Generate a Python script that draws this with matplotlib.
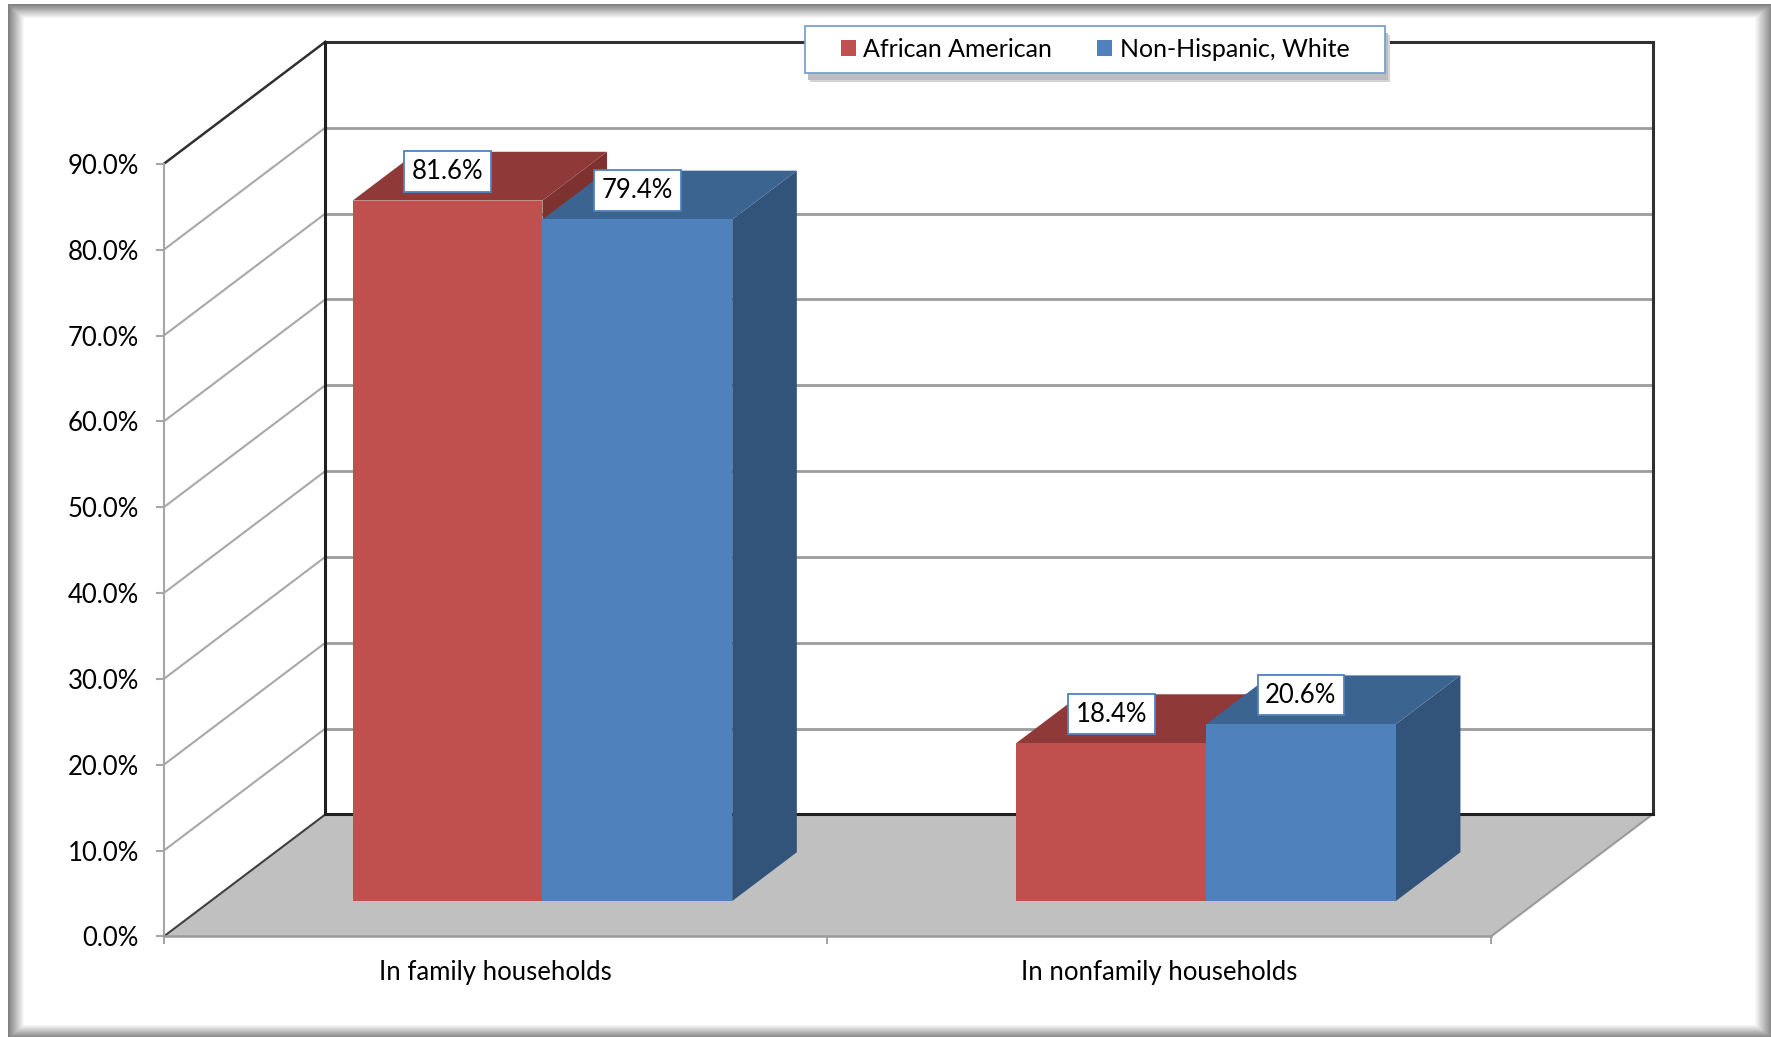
import numpy as np
import matplotlib
matplotlib.use('Agg')
import matplotlib.pyplot as plt
from matplotlib.patches import Polygon, Rectangle
from matplotlib.lines import Line2D
from matplotlib.transforms import IdentityTransform

# data
categories = ['In family households', 'In nonfamily households']
series = ['African American', 'Non-Hispanic, White']
african_american = [81.6, 18.4]
non_hispanic_white = [79.4, 20.6]
y_ticks = [0, 10, 20, 30, 40, 50, 60, 70, 80, 90]

front_colors = ['#c0504d', '#4f81bd']
top_colors = ['#8f3a38', '#3c6491']
side_colors = ['#7e3230', '#32537a']

plt.rcParams['font.family'] = ['Lato', 'DejaVu Sans']
FS = 18.5

W, H = 1771, 1037
fig = plt.figure(figsize=(W / 100, H / 100), dpi=100)

# white frame with a soft inner shadow
yy, xx = np.mgrid[0:H, 0:W].astype(float)
shade = np.zeros((H, W))
shade = np.maximum(shade, np.clip(1 - (xx - 8) / 16, 0, 1) * 0.5)
shade = np.maximum(shade, np.clip(1 - (yy - 4) / 14, 0, 1) * 0.5)
shade = np.maximum(shade, np.clip(1 - (W - 1 - xx) / 16, 0, 1) * 0.45)
shade = np.maximum(shade, np.clip(1 - (H - 1 - yy) / 12, 0, 1) * 0.45)
img = 1 - shade
img[(xx < 8) | (yy < 4)] = 1.0
bg = fig.add_axes([0, 0, 1, 1], zorder=-5)
bg.imshow(img, cmap='gray', vmin=0, vmax=1, aspect='auto', interpolation='nearest')
bg.axis('off')

# front plane axes (depth 0)
ax = fig.add_axes([0.0925, 0.0970, 0.7494, 0.7450])
ax.set_facecolor('none')
ax.set_xlim(0, 2)
ax.set_ylim(0, 90)

DX, DY = 161.5, 122.0      # pixel shift for full depth
D0, DEPTH = 0.29, 0.40     # bar front depth, bar thickness
BW = 0.286                 # bar width in category units
ID = IdentityTransform()


def proj(x, y, d):
    px, py = ax.transData.transform((x, y))
    return px + d * DX, py + d * DY


def line(p, q, color, lw, z=1):
    ax.add_line(Line2D([p[0], q[0]], [p[1], q[1]], color=color, lw=lw,
                       transform=ID, clip_on=False, zorder=z))


# floor
floor = [proj(0, 0, 0), proj(2, 0, 0), proj(2, 0, 1), proj(0, 0, 1)]
ax.add_patch(Polygon(floor, closed=True, facecolor='#c0c0c0', edgecolor='none',
                     transform=ID, clip_on=False, zorder=0.5))
line(proj(2, 0, 0), proj(2, 0, 1), '#9a9a9a', 1.5)
line(proj(0, 0, 0), proj(0, 0, 1), '#404040', 1.5)

# walls and gridlines
for v in y_ticks[1:-1]:
    line(proj(0, v, 1), proj(2, v, 1), '#9c9c9c', 2.0)
    line(proj(0, v, 0), proj(0, v, 1), '#a8a8a8', 1.5)
top = y_ticks[-1]
line(proj(0, top, 0), proj(0, top, 1), '#303030', 1.8)
line(proj(0, top, 1), proj(2, top, 1), '#303030', 2.2)
line(proj(0, 0, 1), proj(0, top, 1), '#202020', 2.2)
line(proj(2, 0, 1), proj(2, top, 1), '#303030', 2.2)
line(proj(0, 0, 1), proj(2, 0, 1), '#202020', 2.2)

# bars
values = [african_american, non_hispanic_white]
for i in range(len(categories)):
    c = i + 0.5
    for j in range(len(series)):
        v = values[j][i]
        x0 = c - BW + j * BW
        x1 = x0 + BW
        d1 = D0 + DEPTH
        side = [proj(x1, 0, D0), proj(x1, 0, d1), proj(x1, v, d1), proj(x1, v, D0)]
        topf = [proj(x0, v, D0), proj(x1, v, D0), proj(x1, v, d1), proj(x0, v, d1)]
        front = [proj(x0, 0, D0), proj(x1, 0, D0), proj(x1, v, D0), proj(x0, v, D0)]
        for pts, col in ((side, side_colors[j]), (topf, top_colors[j]), (front, front_colors[j])):
            ax.add_patch(Polygon(pts, closed=True, facecolor=col, edgecolor='none',
                                 transform=ID, clip_on=False, zorder=2))
        lx, ly = proj(c - BW / 2 + j * BW, v, D0)
        ax.text(lx, ly + 29, f'{v:.1f}%', transform=ID, ha='center', va='center',
                fontsize=FS, color='black', zorder=5,
                bbox=dict(boxstyle='square,pad=0.3', facecolor='white',
                          edgecolor='#4f81bd', lw=1.3))

# axes styling
for s in ['top', 'right']:
    ax.spines[s].set_visible(False)
ax.spines['left'].set_color('#a6a6a6')
ax.spines['left'].set_linewidth(1.5)
ax.spines['bottom'].set_color('#9a9a9a')
ax.spines['bottom'].set_linewidth(1.8)
ax.set_yticks(y_ticks)
ax.set_yticklabels([f'{t:.1f}%' for t in y_ticks])
ax.tick_params(axis='y', length=6, width=1.5, color='#a6a6a6', pad=12, labelsize=FS)
ax.set_xticks([0, 1, 2])
ax.set_xticklabels(['', '', ''])
ax.tick_params(axis='x', which='major', length=6, width=1.5, color='#a6a6a6')
ax.set_xticks([0.5, 1.5], categories, minor=True)
ax.tick_params(axis='x', which='minor', length=0, pad=17, labelsize=FS)

# legend box with soft shadow
bx, by, bw, bh = 805, 1037 - 73, 580, 47
fig.patches.append(Rectangle((bx + 5, by - 9), bw, bh, transform=ID,
                             facecolor='#d4d4d4', edgecolor='none', zorder=6))
fig.patches.append(Rectangle((bx + 3, by - 7), bw, bh, transform=ID,
                             facecolor='#bdbdbd', edgecolor='none', zorder=6))
fig.patches.append(Rectangle((bx, by), bw, bh, transform=ID,
                             facecolor='white', edgecolor='#7a9fd0', lw=1.3, zorder=7))
handles = [Rectangle((0, 0), 1, 1, facecolor=col) for col in front_colors]
leg = ax.legend(handles, series, loc='center', bbox_to_anchor=(bx + bw / 2, by + bh / 2),
                bbox_transform=ID, ncol=2, frameon=False, fontsize=18,
                handlelength=0.6, handleheight=0.6, handletextpad=0.3, columnspacing=1.8)
leg.set_zorder(10)
leg.remove()
fig.legends.append(leg)
leg.set_figure(fig)

fig.savefig('out.png', dpi=100)
